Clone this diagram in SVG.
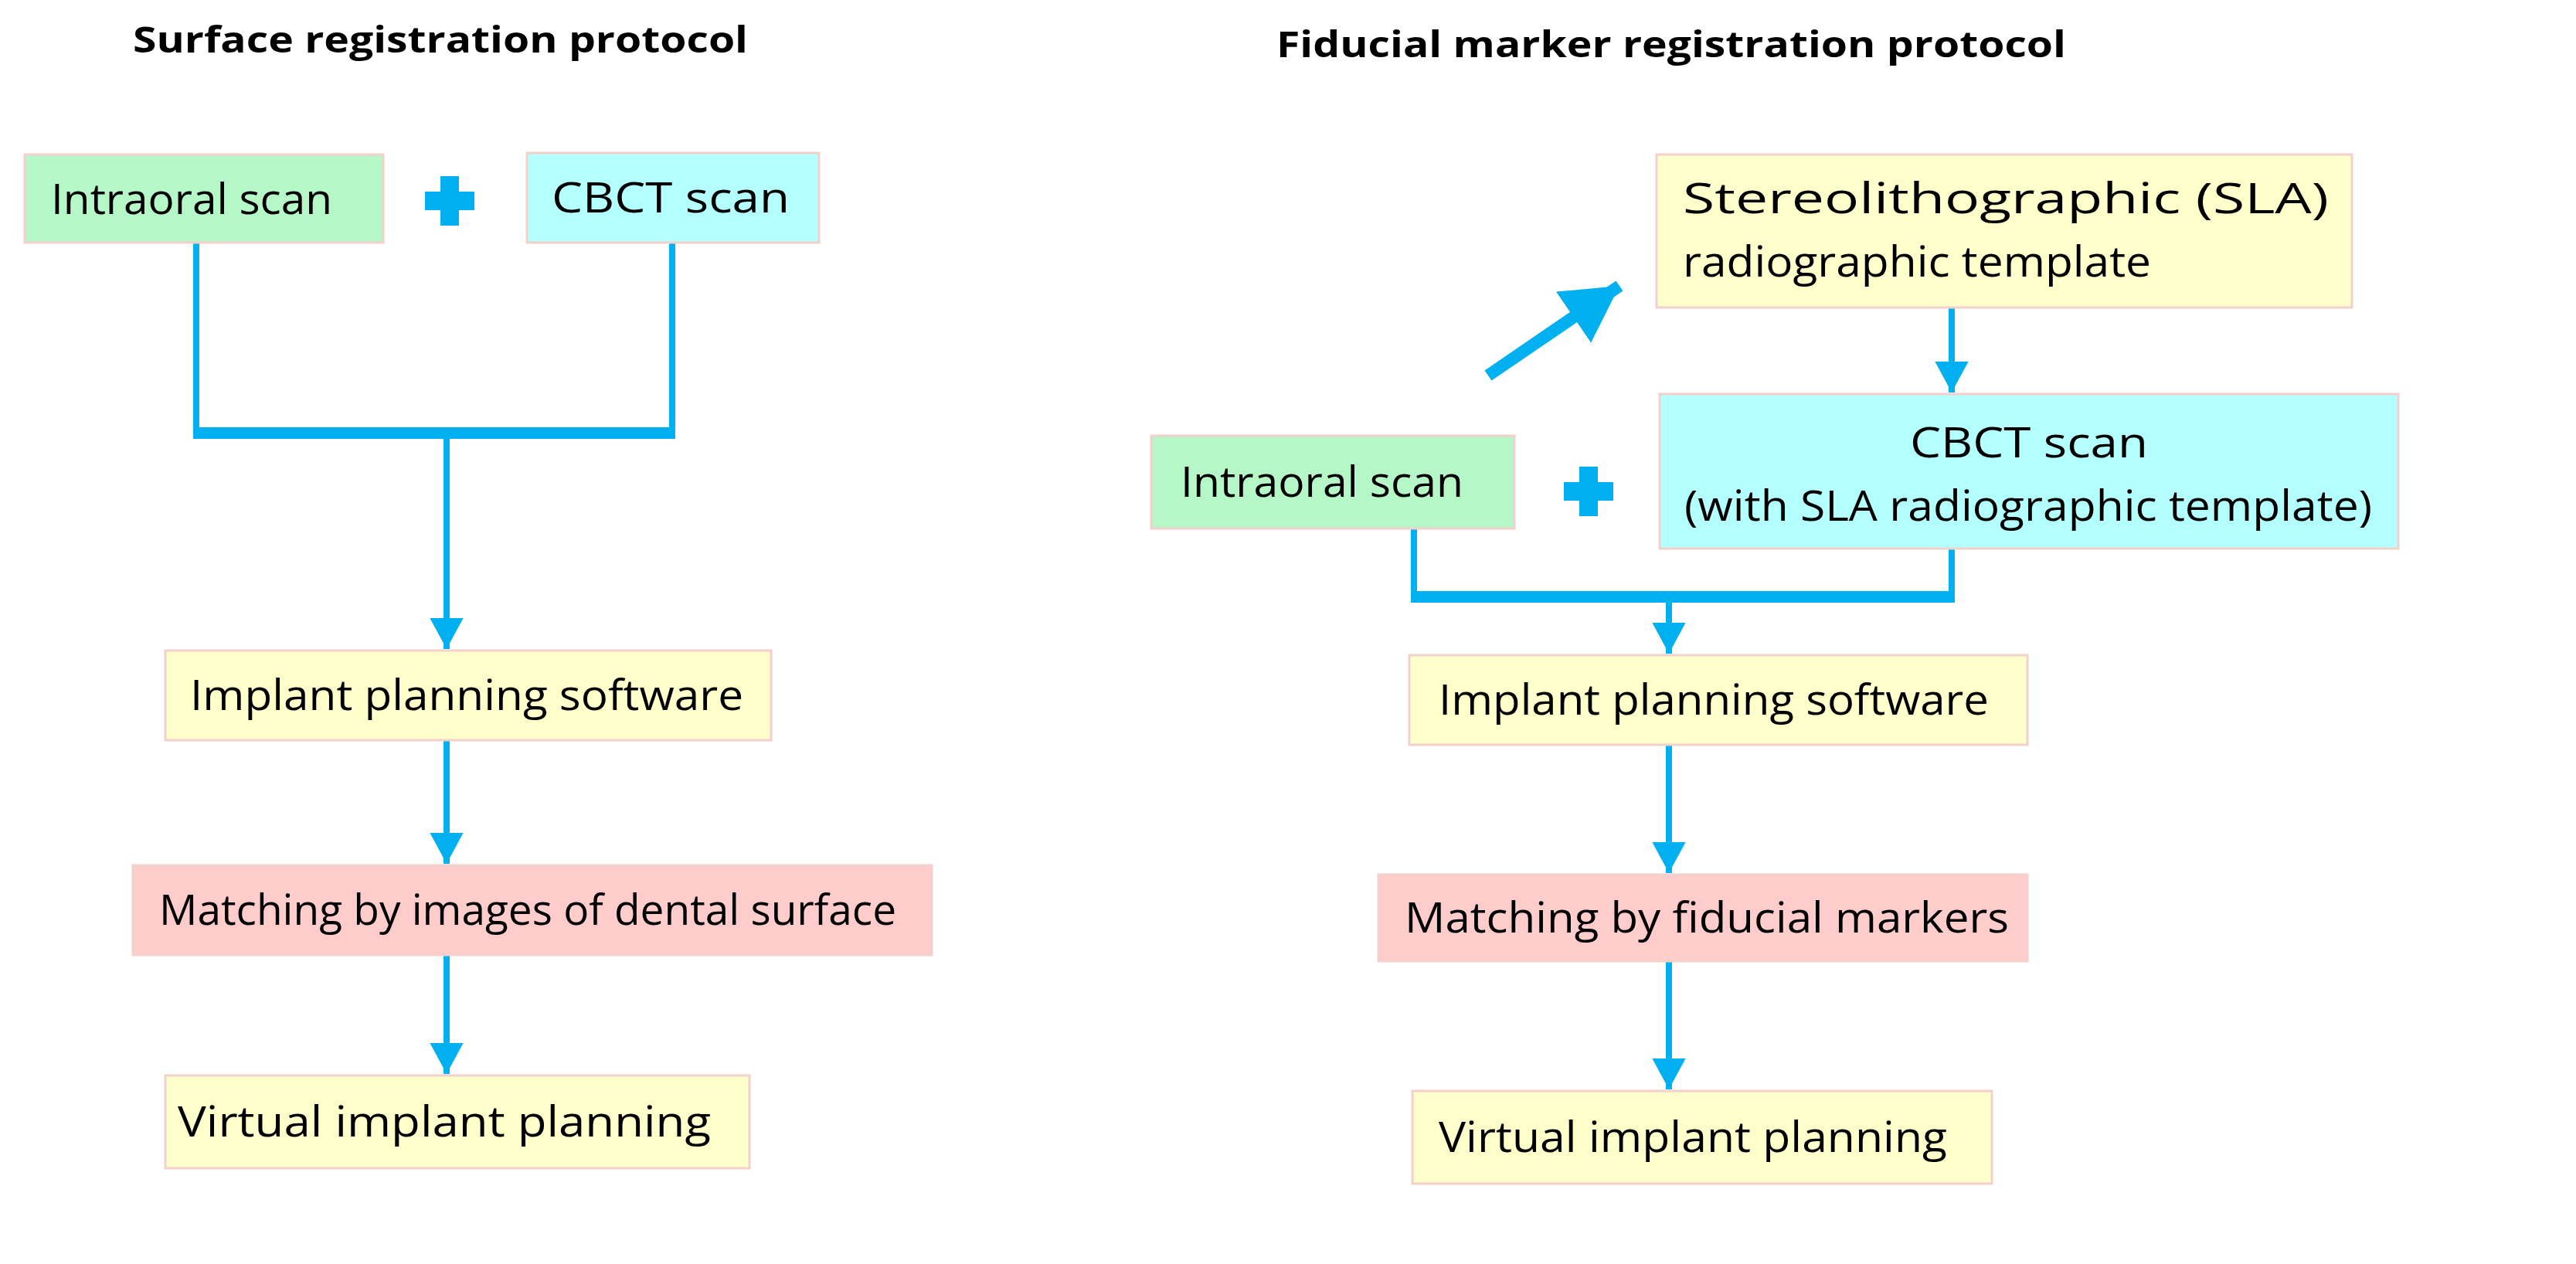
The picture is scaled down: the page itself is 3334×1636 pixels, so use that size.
<svg xmlns="http://www.w3.org/2000/svg" width="3334" height="1636" viewBox="0 0 3334 1636">
<defs>
<style>
.t{font-family:"Open Sans","Liberation Sans",sans-serif;font-size:54px;fill:#000}
.h{font-family:"Open Sans","Liberation Sans",sans-serif;font-size:46px;font-weight:bold;fill:#000}
.b{stroke:#f2d0cc;stroke-width:3}
.c{stroke:#00b0f0;stroke-width:8;fill:none}
.g{fill:#b6f7c8}.y{fill:#ffffcc}.k{fill:#b4ffff}.p{fill:#ffcccc}
</style>
<marker id="a" markerWidth="6" markerHeight="6" refX="5" refY="3" orient="auto" markerUnits="strokeWidth"><path d="M0,0.3 L5,3 L0,5.7 Z" fill="#00b0f0"/></marker>
<marker id="d" markerWidth="5" markerHeight="5" refX="4.5" refY="2.5" orient="auto" markerUnits="strokeWidth"><path d="M0,0 L4.5,2.5 L0,5 Z" fill="#00b0f0"/></marker>
</defs>
<rect width="3334" height="1636" fill="#fff"/>
<text class="h" x="172" y="68" textLength="796" lengthAdjust="spacingAndGlyphs">Surface registration  protocol</text>
<text class="h" x="1652" y="74" textLength="1022" lengthAdjust="spacingAndGlyphs">Fiducial marker registration  protocol</text>

<g id="connectors">
<path class="c" d="M254,314 V564 H870 V314"/>
<path d="M254,560 H870" stroke="#00b0f0" stroke-width="14"/>
<path class="c" d="M578,564 V840" marker-end="url(#a)"/>
<path class="c" d="M578,958 V1118" marker-end="url(#a)"/>
<path class="c" d="M578,1236 V1390" marker-end="url(#a)"/>
<path d="M1926,486 L2096,370" stroke="#00b0f0" stroke-width="16" fill="none" marker-end="url(#d)"/>
<path class="c" d="M2526,398 V508" marker-end="url(#a)"/>
<path class="c" d="M1830,684 V776 H2526 V710"/>
<path d="M1830,772 H2526" stroke="#00b0f0" stroke-width="14"/>
<path class="c" d="M2160,776 V846" marker-end="url(#a)"/>
<path class="c" d="M2160,964 V1130" marker-end="url(#a)"/>
<path class="c" d="M2160,1244 V1410" marker-end="url(#a)"/>
<path d="M550,248 H614 V272 H550 Z M570,228 H594 V292 H570 Z" fill="#00b0f0"/>
<path d="M2024,624 H2088 V648 H2024 Z M2044,604 H2068 V668 H2044 Z" fill="#00b0f0"/>
</g>

<g id="l-intraoral"><rect class="b g" x="32" y="200" width="464" height="114"/><text class="t" x="66" y="277" textLength="364" lengthAdjust="spacingAndGlyphs">Intraoral scan</text></g>
<g id="l-cbct"><rect class="b k" x="682" y="198" width="378" height="116"/><text class="t" x="714" y="275" textLength="308" lengthAdjust="spacingAndGlyphs">CBCT scan</text></g>
<g id="l-implant"><rect class="b y" x="214" y="842" width="784" height="116"/><text class="t" x="246" y="919" textLength="716" lengthAdjust="spacingAndGlyphs">Implant planning software</text></g>
<g id="l-matching"><rect class="b p" x="172" y="1120" width="1034" height="116"/><text class="t" x="206" y="1197" textLength="954" lengthAdjust="spacingAndGlyphs">Matching by images of dental surface</text></g>
<g id="l-virtual"><rect class="b y" x="214" y="1392" width="756" height="120"/><text class="t" x="230" y="1471" textLength="690" lengthAdjust="spacingAndGlyphs">Virtual implant planning</text></g>

<g id="r-sla"><rect class="b y" x="2144" y="200" width="900" height="198"/><text class="t" x="2178" y="276" textLength="836" lengthAdjust="spacingAndGlyphs">Stereolithographic (SLA)</text><text class="t" x="2178" y="358" textLength="606" lengthAdjust="spacingAndGlyphs">radiographic template</text></g>
<g id="r-cbct"><rect class="b k" x="2148" y="510" width="956" height="200"/><text class="t" x="2626" y="592" text-anchor="middle" textLength="308" lengthAdjust="spacingAndGlyphs">CBCT scan</text><text class="t" x="2625" y="674" text-anchor="middle" textLength="890" lengthAdjust="spacingAndGlyphs">(with SLA radiographic template)</text></g>
<g id="r-intraoral"><rect class="b g" x="1490" y="564" width="470" height="120"/><text class="t" x="1528" y="643" textLength="366" lengthAdjust="spacingAndGlyphs">Intraoral scan</text></g>
<g id="r-implant"><rect class="b y" x="1824" y="848" width="800" height="116"/><text class="t" x="1862" y="925" textLength="712" lengthAdjust="spacingAndGlyphs">Implant planning software</text></g>
<g id="r-matching"><rect class="b p" x="1784" y="1132" width="840" height="112"/><text class="t" x="1818" y="1207" textLength="782" lengthAdjust="spacingAndGlyphs">Matching by fiducial markers</text></g>
<g id="r-virtual"><rect class="b y" x="1828" y="1412" width="750" height="120"/><text class="t" x="1862" y="1491" textLength="658" lengthAdjust="spacingAndGlyphs">Virtual implant planning</text></g>
</svg>
